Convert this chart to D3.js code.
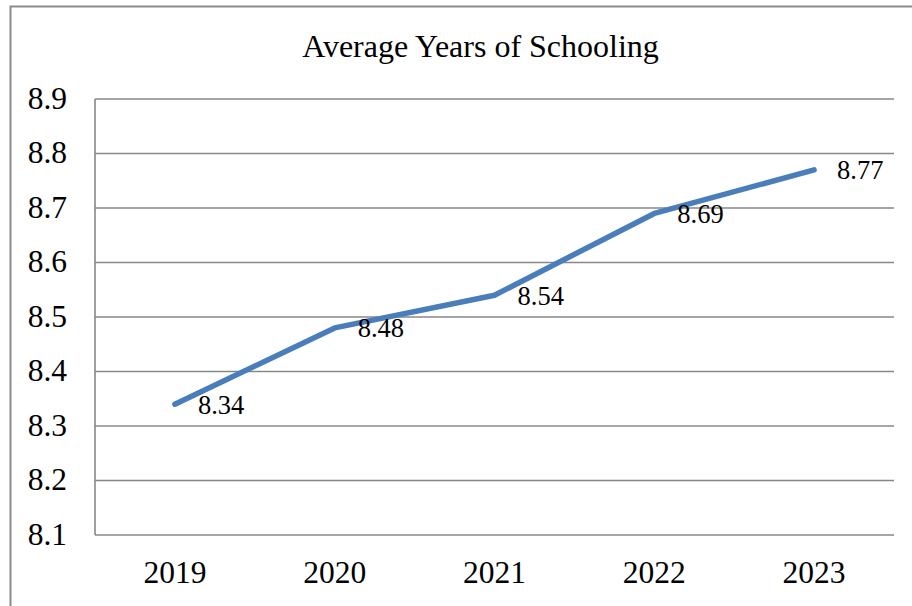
<!DOCTYPE html>
<html>
<head>
<meta charset="utf-8">
<script src="https://cdn.jsdelivr.net/npm/d3@7"></script>
<style>
  html, body { margin: 0; padding: 0; background: #fff; }
  svg { display: block; }
</style>
</head>
<body>
<svg id="chart" width="912" height="606"></svg>
<script>
const title = "Average Years of Schooling";
const years = ["2019", "2020", "2021", "2022", "2023"];
const values = [8.34, 8.48, 8.54, 8.69, 8.77];
const yTicks = [8.1, 8.2, 8.3, 8.4, 8.5, 8.6, 8.7, 8.8, 8.9];

const FONT = "'Liberation Serif', 'Times New Roman', Times, serif";

const svg = d3.select("#chart");
const W = 912, H = 606;
const plot = { left: 95, right: 894, top: 99, bottom: 535 };

svg.append("rect").attr("x", 0).attr("y", 0).attr("width", W).attr("height", H).attr("fill", "#fff");

// outer chart border
svg.append("rect")
  .attr("x", 10.5).attr("y", 6.5)
  .attr("width", 940).attr("height", 640)
  .attr("fill", "none").attr("stroke", "#8c8c8c").attr("stroke-width", 2);

const x = d3.scaleBand().domain(years).range([plot.left, plot.right]);
const y = d3.scaleLinear().domain([8.1, 8.9]).range([plot.bottom, plot.top]);

// gridlines
svg.append("g").selectAll("line").data(yTicks).join("line")
  .attr("x1", plot.left).attr("x2", plot.right)
  .attr("y1", d => y(d)).attr("y2", d => y(d))
  .attr("stroke", "#878787").attr("stroke-width", 1.6);

// left axis line
svg.append("line")
  .attr("x1", plot.left).attr("x2", plot.left)
  .attr("y1", plot.top).attr("y2", plot.bottom)
  .attr("stroke", "#878787").attr("stroke-width", 1.6);

// y tick labels
svg.append("g").selectAll("text").data(yTicks).join("text")
  .attr("x", 67).attr("y", d => y(d) + 9.5)
  .attr("text-anchor", "end")
  .attr("font-family", FONT)
  .attr("font-size", 31.5)
  .text(d => d3.format(".1f")(d));

// x tick labels
svg.append("g").selectAll("text").data(years).join("text")
  .attr("x", d => x(d) + x.bandwidth() / 2)
  .attr("y", 583)
  .attr("text-anchor", "middle")
  .attr("font-family", FONT)
  .attr("font-size", 31.5)
  .text(d => d);

// line
const line = d3.line()
  .x((d, i) => x(years[i]) + x.bandwidth() / 2)
  .y(d => y(d));
svg.append("path")
  .datum(values)
  .attr("d", line)
  .attr("fill", "none")
  .attr("stroke", "#4a7ebb")
  .attr("stroke-width", 5.5)
  .attr("stroke-linecap", "round")
  .attr("stroke-linejoin", "round");

// data labels
svg.append("g").selectAll("text").data(values).join("text")
  .attr("x", (d, i) => x(years[i]) + x.bandwidth() / 2 + 23)
  .attr("y", d => y(d) + 9.5)
  .attr("font-family", FONT)
  .attr("font-size", 26.5)
  .text(d => d3.format(".2f")(d));

// title
svg.append("text")
  .attr("x", 480.5).attr("y", 57)
  .attr("text-anchor", "middle")
  .attr("font-family", FONT)
  .attr("font-size", 32)
  .text(title);
</script>
</body>
</html>
